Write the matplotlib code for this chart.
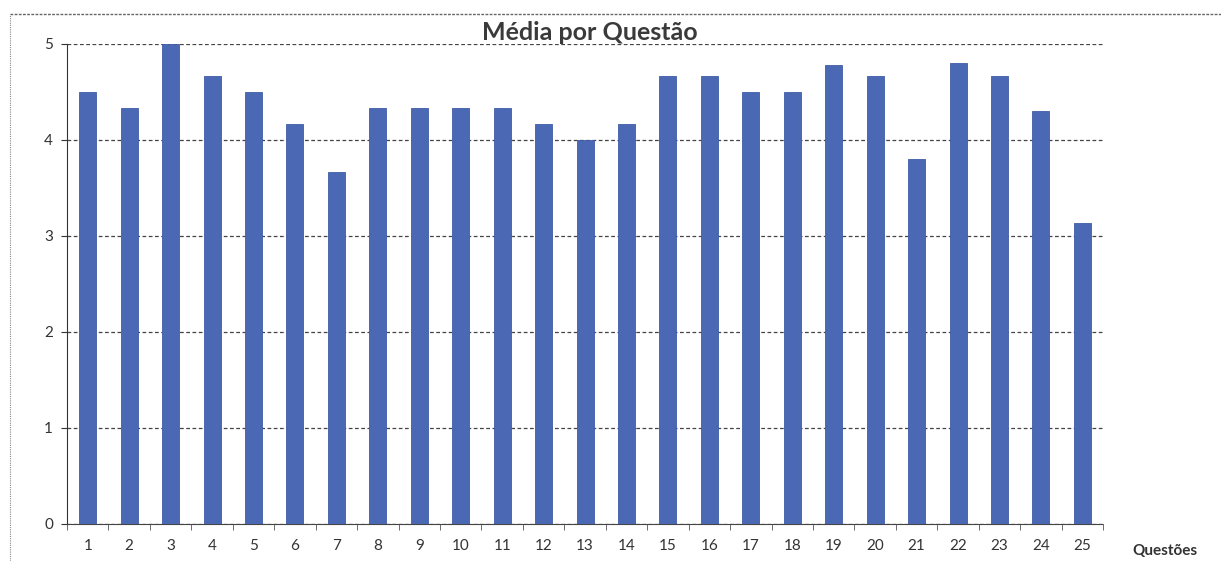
import matplotlib
matplotlib.use("Agg")
import matplotlib.pyplot as plt
from matplotlib.lines import Line2D

questions = [str(i) for i in range(1, 26)]
means = [4.50, 4.33, 5.00, 4.67, 4.50, 4.17, 3.67, 4.33, 4.33, 4.33,
         4.33, 4.17, 4.00, 4.17, 4.67, 4.67, 4.50, 4.50, 4.78, 4.67,
         3.80, 4.80, 4.67, 4.30, 3.13]
yticks = [0, 1, 2, 3, 4, 5]

plt.rcParams['font.family'] = ['Lato', 'DejaVu Sans']

fig = plt.figure(figsize=(12.21, 5.61), dpi=100)
ax = fig.add_axes([0.0549, 0.066, 0.8485, 0.8556])

x = list(range(len(questions)))
ax.bar(x, means, width=0.41, color='#4A68B4', edgecolor='#3F5CA6', linewidth=0.6, zorder=3)

ax.set_xlim(-0.5, len(questions) - 0.5)
ax.set_ylim(0, 5)
ax.set_yticks(yticks)
ax.set_yticklabels([str(v) for v in yticks], fontsize=11, color='#333333')
ax.set_xticks(x)
ax.set_xticklabels(questions, fontsize=11, color='#333333')
ax.tick_params(axis='x', length=0, pad=11)
ax.set_xticks([i - 0.5 for i in range(len(questions) + 1)], minor=True)
ax.tick_params(axis='x', which='minor', length=4, color='#555555')
ax.tick_params(axis='y', length=4, color='#333333', pad=6)

ax.yaxis.grid(True, linestyle=(0, (3, 2)), color='#444444', linewidth=0.9, zorder=0)
for s in ['top', 'right']:
    ax.spines[s].set_visible(False)
ax.spines['left'].set_color('#333333')
ax.spines['bottom'].set_color('#444444')
ax.spines['bottom'].set_linestyle((0, (2, 1)))

fig.text(0.483, 0.942, 'Média por Questão', ha='center', va='center',
         fontsize=18, fontweight='bold', color='#3a3a3a')
fig.text(0.954, 0.018, 'Questões', ha='center', va='center',
         fontsize=11, fontweight='bold', color='#333333')

# scanned frame lines
fig.add_artist(Line2D([0.008, 1.0], [0.975, 0.975], transform=fig.transFigure,
                      color='#666666', linewidth=1.0, linestyle=(0, (2, 1))))
fig.add_artist(Line2D([0.008, 0.008], [0.0, 0.975], transform=fig.transFigure,
                      color='#888888', linewidth=0.8, linestyle=(0, (1, 1))))

fig.savefig('out.png', dpi=100)
